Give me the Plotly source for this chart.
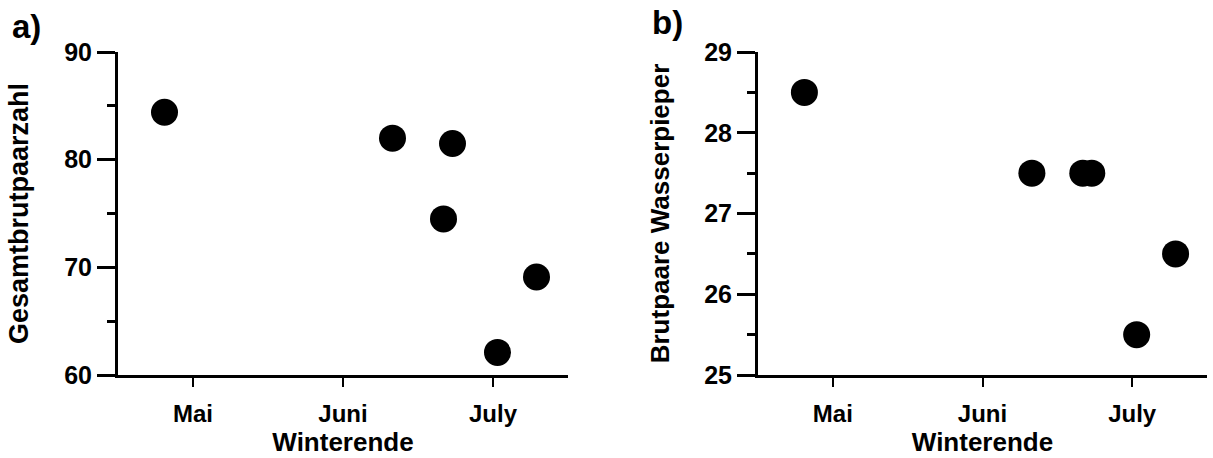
import plotly.graph_objects as go

# Data
months = [4.81, 6.33, 6.67, 6.73, 7.03, 7.29]        # Winterende (month number)
gesamt = [84.4, 82.0, 74.5, 81.5, 62.1, 69.1]        # Gesamtbrutpaarzahl
wasser = [28.5, 27.5, 27.5, 27.5, 25.5, 26.5]        # Brutpaare Wasserpieper
tick_vals = [5, 6, 7]
tick_text = ["Mai", "Juni", "July"]

W, H = 1213, 458
FONT = "Liberation Sans, Arial, sans-serif"

fig = go.Figure()
fig.add_trace(go.Scatter(x=months, y=gesamt, mode="markers", xaxis="x", yaxis="y",
                         marker=dict(size=27, color="black", line=dict(width=0)), showlegend=False))
fig.add_trace(go.Scatter(x=months, y=wasser, mode="markers", xaxis="x2", yaxis="y2",
                         marker=dict(size=27, color="black", line=dict(width=0)), showlegend=False))

xcommon = dict(range=[4.5, 7.5], tickvals=tick_vals, ticktext=tick_text, showline=True,
               linewidth=3, linecolor="black", ticks="outside", ticklen=9, tickwidth=2,
               tickcolor="black", showgrid=False, zeroline=False, ticklabelstandoff=6,
               tickfont=dict(family=FONT, size=24, color="black", weight="bold"),
               title=dict(text="Winterende", font=dict(family=FONT, size=26, color="black", weight="bold"),
                          standoff=6))
ycommon = dict(showline=True, linewidth=3, linecolor="black", ticks="outside", ticklen=18,
               tickwidth=3, tickcolor="black", showgrid=False, zeroline=False,
               tickfont=dict(family=FONT, size=25, color="black", weight="bold"),
               minor=dict(ticks="outside", ticklen=8, tickwidth=3, tickcolor="black", showgrid=False))

fig.update_layout(
    width=W, height=H,
    margin=dict(l=0, r=0, t=52, b=83, autoexpand=False),
    paper_bgcolor="white", plot_bgcolor="white",
    xaxis=dict(domain=[118 / W, 568 / W], anchor="y", **xcommon),
    xaxis2=dict(domain=[758 / W, 1207 / W], anchor="y2", **xcommon),
    yaxis=dict(domain=[0, 1], anchor="x", range=[60, 90], tickvals=[60, 70, 80, 90],
               title=dict(text="Gesamtbrutpaarzahl", font=dict(family=FONT, size=27, color="black", weight="bold"),
                          standoff=28),
               **{**ycommon, "minor": dict(ycommon["minor"], dtick=5, tick0=60)}),
    yaxis2=dict(domain=[0, 1], anchor="x2", range=[25, 29], tickvals=[25, 26, 27, 28, 29],
                title=dict(text="Brutpaare Wasserpieper", font=dict(family=FONT, size=26, color="black", weight="bold"),
                           standoff=28),
                **{**ycommon, "minor": dict(ycommon["minor"], dtick=0.5, tick0=25)}),
    annotations=[
        dict(text="a)", x=10 / W, y=1, xref="paper", yref="paper", xanchor="left", yanchor="top",
             showarrow=False, font=dict(family=FONT, size=33, color="black", weight="bold"),
             yshift=46),
        dict(text="b)", x=650 / W, y=1, xref="paper", yref="paper", xanchor="left", yanchor="top",
             showarrow=False, font=dict(family=FONT, size=33, color="black", weight="bold"),
             yshift=50),
    ],
)

fig.write_html("out.html")
